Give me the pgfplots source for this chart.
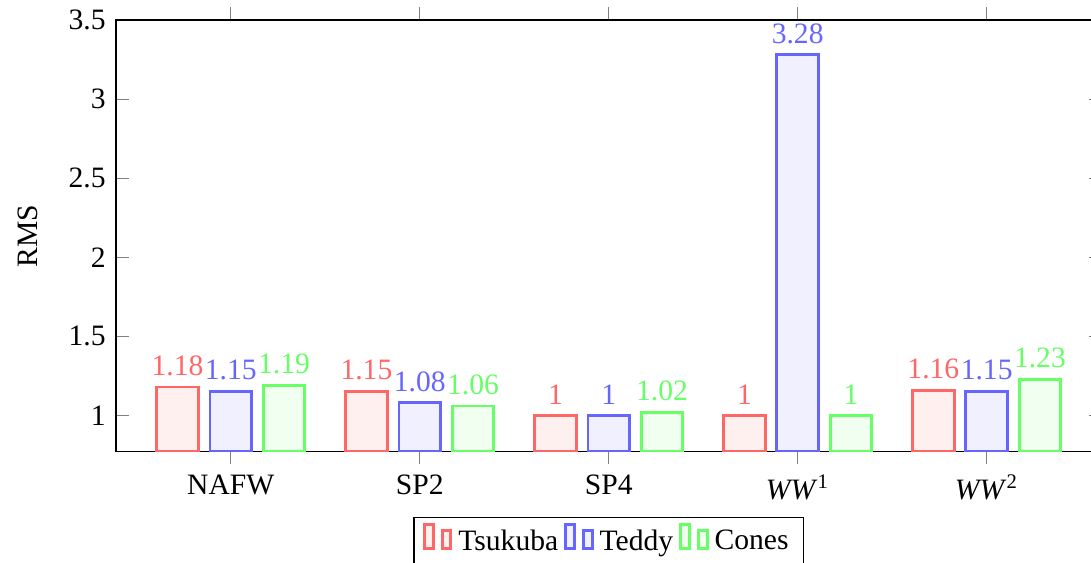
\documentclass[border=0pt]{standalone}
\usepackage{fontspec}
\setmainfont{Liberation Serif}
\usepackage{pgfplots}
\pgfplotsset{compat=1.18}
\begin{document}
\begin{tikzpicture}
\begin{axis}[
  name=ax,
  scale only axis,
  width=332.9pt, height=145.9pt,
  ybar=4pt, bar width=14pt,
  ymin=0.77, ymax=3.5,
  xmin=-0.607, xmax=4.607,
  xtick={0,1,2,3,4},
  xticklabels={NAFW,SP2,SP4,\textit{WW}\textsuperscript{1},\textit{WW}\textsuperscript{2}},
  xtick align=outside,
  ytick={1,1.5,2,2.5,3,3.5},
  ylabel={RMS},
  ylabel shift=3.5pt,
  /pgf/number format/assume math mode=true,
  nodes near coords,
  nodes near coords style={font=\normalsize},
  every node near coord/.append style={/pgf/number format/assume math mode=true},
  legend style={at={(0.5,-0.15)}, anchor=north, legend columns=-1, draw=black, /tikz/every even column/.append style={column sep=0pt}},
]
\addplot[draw=red!60, fill=red!6, line width=1pt, text=red!60] coordinates {(0,1.18) (1,1.15) (2,1) (3,1) (4,1.16)};
\addplot[draw=blue!60, fill=blue!6, line width=1pt, text=blue!60] coordinates {(0,1.15) (1,1.08) (2,1) (3,3.28) (4,1.15)};
\addplot[draw=green!60, fill=green!6, line width=1pt, text=green!60] coordinates {(0,1.19) (1,1.06) (2,1.02) (3,1) (4,1.23)};
\legend{Tsukuba,Teddy,Cones}
\end{axis}
\pgfresetboundingbox
\path[use as bounding box] ([xshift=-39.2pt,yshift=6.76pt]ax.north west) rectangle ++(368.6pt,-189.9pt);
\end{tikzpicture}
\end{document}
